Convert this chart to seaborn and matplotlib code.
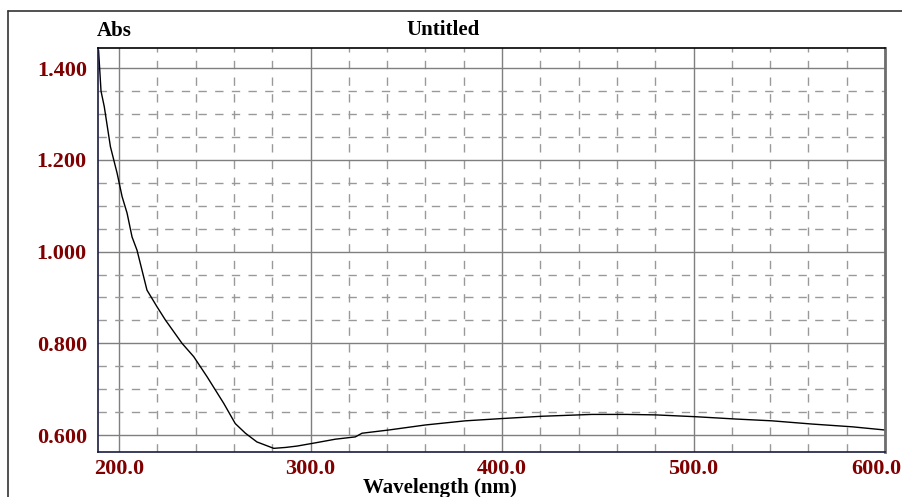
import numpy as np
import pandas as pd
import seaborn as sns
import matplotlib.pyplot as plt
from matplotlib.ticker import MultipleLocator, FormatStrFormatter
from matplotlib.lines import Line2D
from matplotlib.transforms import ScaledTranslation

# Spectrum
wavelength = [189.3, 190.6, 192.3, 195.5, 199.0, 201.6, 204.2, 206.8, 209.4, 214.6,
              219.8, 224.2, 232.9, 239.0, 246.0, 254.7, 260.7, 266.0, 272.0, 280.8,
              287.0, 293.0, 302.5, 313.0, 323.4, 326.9, 340.8, 360.0, 380.8, 400.0,
              420.9, 447.0, 465.0, 480.0, 501.0, 521.8, 541.0, 561.9, 582.8, 600.0]
absorbance = [1.440, 1.350, 1.316, 1.229, 1.171, 1.120, 1.084, 1.032, 1.003, 0.916,
              0.880, 0.851, 0.800, 0.771, 0.727, 0.669, 0.625, 0.604, 0.585, 0.571,
              0.573, 0.576, 0.583, 0.591, 0.596, 0.604, 0.611, 0.622, 0.631, 0.636,
              0.641, 0.645, 0.645, 0.644, 0.640, 0.635, 0.631, 0.624, 0.618, 0.611]

spectrum = pd.DataFrame({'wavelength': wavelength, 'abs': absorbance})

sns.set_style("white")
plt.rcParams['font.family'] = ['Liberation Serif', 'DejaVu Serif']
plt.rcParams['font.weight'] = 'bold'
plt.rcParams['text.color'] = 'black'

fig = plt.figure(figsize=(9.02, 4.97), dpi=100)
ax = fig.add_axes([0.1086, 0.0905, 0.8726, 0.8129])

sns.lineplot(data=spectrum, x='wavelength', y='abs', color='black', linewidth=1.0, ax=ax)

ax.set_xlim(189, 600)
ax.set_ylim(0.563, 1.444)
ax.xaxis.set_major_locator(MultipleLocator(100))
ax.xaxis.set_minor_locator(MultipleLocator(20))
ax.yaxis.set_major_locator(MultipleLocator(0.2))
ax.yaxis.set_minor_locator(MultipleLocator(0.05))
ax.xaxis.set_major_formatter(FormatStrFormatter('%.1f'))
ax.yaxis.set_major_formatter(FormatStrFormatter('%.3f'))

ax.grid(which='major', color='#7f7f7f', linewidth=1.0, linestyle='-')
ax.grid(which='minor', color='#999999', linewidth=1.0, linestyle=(0, (6, 6)))
ax.set_axisbelow(True)

ax.tick_params(which='both', length=0)
ax.tick_params(axis='y', pad=8, labelsize=16, labelcolor='#7f0000')
ax.tick_params(axis='x', pad=5, labelsize=16, labelcolor='#7f0000')
for lab in ax.get_xticklabels() + ax.get_yticklabels():
    lab.set_fontweight('bold')

ax.set_xlabel('')
ax.set_ylabel('')

# last x label sits pulled in from the right edge, like the reference
fig.canvas.draw()
xlabels = ax.get_xticklabels()
last = [t for t in xlabels if t.get_text() == '600.0']
for t in last:
    t.set_transform(t.get_transform() + ScaledTranslation(-9 / 100, 0, fig.dpi_scale_trans))

ax.spines['top'].set_color('black')
ax.spines['left'].set_color('#1a1a40')
ax.spines['bottom'].set_color('#1a1a40')
ax.spines['right'].set_color('#6e6e6e')
ax.spines['right'].set_linewidth(2.0)
for s in ['top', 'left', 'bottom']:
    ax.spines[s].set_linewidth(1.2)

# Titles
fig.text(97 / 902, 1 - 31 / 497, 'Abs', fontsize=15, fontweight='bold', va='center', ha='left', color='black')
fig.text(443 / 902, 1 - 30 / 497, 'Untitled', fontsize=15, fontweight='bold', va='center', ha='center', color='black')
fig.text(440 / 902, 1 - 488 / 497, 'Wavelength (nm)', fontsize=15, fontweight='bold', va='center', ha='center',
         color='black')

# Outer frame
fig.add_artist(Line2D([8 / 902, 1.0], [1 - 11 / 497, 1 - 11 / 497], color='#333333', linewidth=1.2,
                      transform=fig.transFigure))
fig.add_artist(Line2D([8 / 902, 8 / 902], [1 - 11 / 497, 0.0], color='#333333', linewidth=1.2,
                      transform=fig.transFigure))

plt.savefig('out.png', dpi=100)
